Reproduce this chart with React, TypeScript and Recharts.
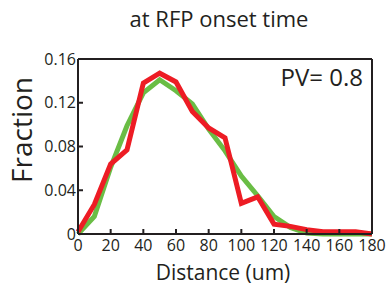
import { Label, Line, LineChart, ReferenceLine, XAxis, YAxis } from "recharts";

// Distance distribution at RFP onset time: model (green) vs measured (red).
const distances = [0, 10, 20, 30, 40, 50, 60, 70, 80, 90, 100, 110, 120, 130, 140, 150, 160, 170, 180];
const measured = [0.002, 0.027, 0.064, 0.077, 0.138, 0.147, 0.139, 0.112, 0.097, 0.088, 0.028, 0.034, 0.009, 0.007, 0.004, 0.002, 0.002, 0.002, 0];
const model = [0, 0.016, 0.061, 0.099, 0.129, 0.141, 0.131, 0.119, 0.096, 0.076, 0.053, 0.035, 0.016, 0.006, 0.001, 0, 0, 0, 0];
const xTicks = [0, 20, 40, 60, 80, 100, 120, 140, 160, 180];
const yTicks = [0, 0.04, 0.08, 0.12, 0.16];

const FONT = "'Open Sans', sans-serif";

const rows = distances.map((d, i) => ({ d, measured: measured[i], model: model[i] }));

export default function App() {
  return (
    <div style={{ position: "absolute", left: 0, top: 0, width: 390, height: 290, fontFamily: FONT }}>
      <LineChart width={390} height={290} data={rows} margin={{ top: 59, right: 18, left: 0, bottom: 0 }}>
        <XAxis
          dataKey="d"
          type="number"
          domain={[0, 180]}
          ticks={xTicks}
          height={56}
          stroke="#231f20"
          strokeWidth={2}
          tickSize={-5}
          tickMargin={11}
          tick={{ fill: "#231f20", fontSize: 16, fontFamily: FONT }}
        >
          <Label
            content={() => (
              <text x={223} y={280} textAnchor="middle" fontSize={21} fill="#231f20" fontFamily={FONT}>
                Distance (um)
              </text>
            )}
          />
        </XAxis>
        <YAxis
          type="number"
          domain={[0, 0.16]}
          ticks={yTicks}
          width={78}
          stroke="#231f20"
          strokeWidth={2}
          tickSize={-5}
          tickMargin={7}
          tickFormatter={(v: number) => (v === 0 ? "0" : v.toFixed(2))}
          tick={{ fill: "#231f20", fontSize: 16, fontFamily: FONT }}
        >
          <Label
            content={() => (
              <text
                x={32}
                y={130}
                textAnchor="middle"
                fontSize={28}
                fill="#231f20"
                fontFamily={FONT}
                transform="rotate(-90 32 130)"
              >
                Fraction
              </text>
            )}
          />
        </YAxis>
        <ReferenceLine y={0.16} stroke="#231f20" strokeWidth={2} />
        <ReferenceLine x={180} stroke="#231f20" strokeWidth={2} />
        <Line
          dataKey="model"
          stroke="#6abd45"
          strokeWidth={5}
          dot={false}
          isAnimationActive={false}
          strokeLinejoin="miter"
        />
        <Line
          dataKey="measured"
          stroke="#ed1c24"
          strokeWidth={5}
          dot={false}
          isAnimationActive={false}
          strokeLinejoin="miter"
        />
      </LineChart>
      <div
        style={{
          position: "absolute",
          left: 0,
          width: 438,
          top: 3,
          textAlign: "center",
          fontSize: 22,
          color: "#231f20",
        }}
      >
        at RFP onset time
      </div>
      <div style={{ position: "absolute", right: 27, top: 60, fontSize: 24, color: "#231f20" }}>PV= 0.8</div>
    </div>
  );
}
